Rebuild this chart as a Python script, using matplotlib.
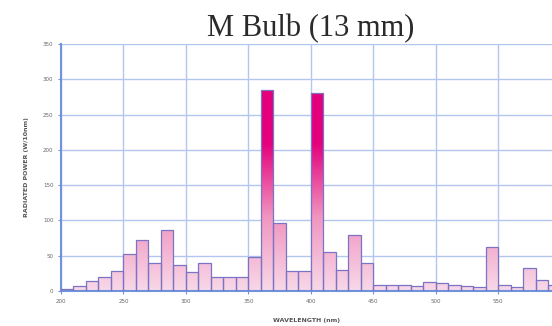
import numpy as np
import matplotlib.pyplot as plt
from matplotlib.colors import LinearSegmentedColormap

# bin start wavelengths (nm), 10 nm bins
wavelength = list(range(200, 600, 10))
power = [3, 7, 14, 20, 28, 52, 72, 40, 86, 37,
         27, 40, 20, 20, 20, 48, 285, 97, 29, 28,
         280, 55, 30, 80, 40, 9, 9, 8, 7, 13,
         12, 9, 7, 5, 63, 8, 5, 32, 15, 9]

xticks = [200, 250, 300, 350, 400, 450, 500, 550]
yticks = [0, 50, 100, 150, 200, 250, 300, 350]

pink = LinearSegmentedColormap.from_list("pink", ["#f8d8e8", "#f095c0", "#e4007c"])

fig = plt.figure(figsize=(5.52, 3.26), dpi=100)
ax = fig.add_axes([0.1105, 0.1074, 0.8895, 0.7576])

bars = ax.bar(wavelength, power, width=10, align="edge",
              facecolor="none", edgecolor="#7b74c4", linewidth=0.9, zorder=3)

# vertical gradient inside every bar
for b, h in zip(bars, power):
    x0 = b.get_x()
    grad = np.linspace(0, h, 100).reshape(-1, 1)
    im = ax.imshow(grad, cmap=pink, vmin=0, vmax=210, origin="lower",
                   extent=[x0, x0 + 10, 0, h], aspect="auto", zorder=2)
    im.set_clip_path(b)

ax.set_xlim(200, 593)
ax.set_ylim(0, 350)
ax.set_xticks(xticks)
ax.set_yticks(yticks)
ax.grid(True, color="#b3c6ee", linewidth=1.0, zorder=0)
ax.set_axisbelow(True)
for s in ["top", "right"]:
    ax.spines[s].set_visible(False)
for s in ["left", "bottom"]:
    ax.spines[s].set_color("#6f93dc")
    ax.spines[s].set_linewidth(1.5)
ax.tick_params(labelsize=4, labelcolor="#666666", length=2, width=0.8, color="#6f93dc")

ax.set_xlabel("WAVELENGTH (nm)", fontsize=4.5, fontweight="bold", color="#555555", labelpad=10)
ax.set_ylabel("RADIATED POWER (W/10nm)", fontsize=4.5, fontweight="bold", color="#555555", labelpad=10)
fig.text(0.562, 0.89, "M Bulb (13 mm)", ha="center", va="baseline",
         fontsize=22, family="Liberation Serif", color="#2a2a2a")

fig.savefig("out.png", dpi=100)
